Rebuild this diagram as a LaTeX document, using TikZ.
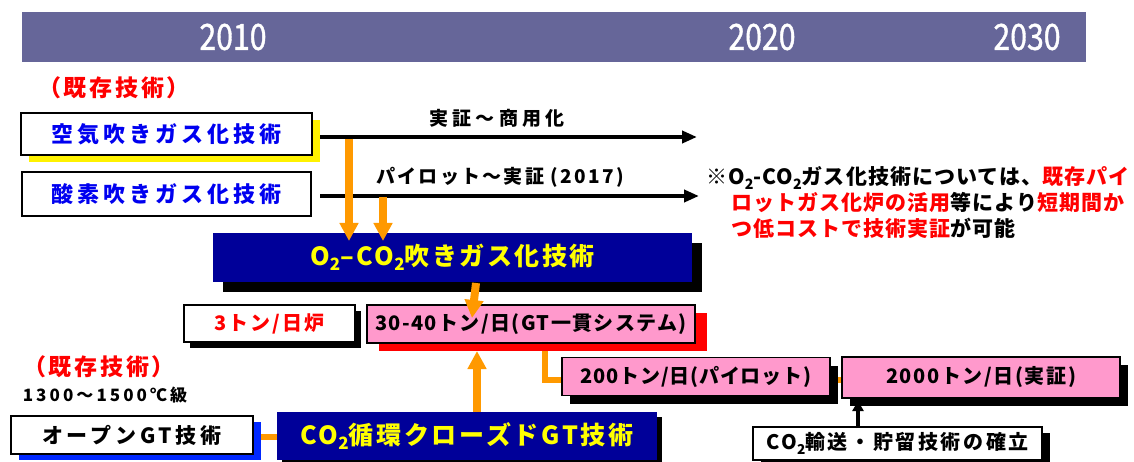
\documentclass[tikz,border=0pt]{standalone}
\usepackage{fontspec}
\usepackage{graphicx}
\setmainfont{Noto Sans CJK JP}
\usetikzlibrary{arrows.meta,shadows}
\definecolor{barc}{RGB}{102,102,153}
\definecolor{navyc}{RGB}{0,0,153}
\definecolor{pinkc}{RGB}{255,153,204}
\definecolor{orng}{RGB}{255,153,0}
\definecolor{txtblue}{RGB}{0,0,240}
\definecolor{txtred}{RGB}{255,0,0}
\definecolor{txtyel}{RGB}{255,255,0}
\definecolor{shblue}{RGB}{0,40,255}
\newcommand\fs[1]{\fontsize{#1pt}{#1pt}\selectfont}
\newcommand\ls[1]{\addfontfeatures{LetterSpace=#1}}
\newcommand\subtwo{\raisebox{-0.22em}{\scalebox{0.68}{2}}}
\begin{document}
\begin{tikzpicture}[x=1pt,y=-1pt,
  box/.style={draw=black,line width=1.6pt,fill=white,inner sep=0pt},
  pinkbox/.style={box,fill=pinkc},
  navybox/.style={fill=navyc,inner sep=0pt,text=txtyel},
  shad/.style n args={3}{general shadow={fill=#1,shadow xshift=#2,shadow yshift=#3}},
  tx/.style n args={2}{font=\bfseries\fs{#1}\ls{#2},inner sep=0pt},
  yr/.style={font=\fs{36}\addfontfeatures{FakeBold=1.2},text=white,inner sep=0pt},
  blk/.style={line width=4.5pt,-{Triangle[width=12pt,length=15pt]}},
  blkup/.style={line width=4pt,-{Triangle[width=11pt,length=10pt]}},
  oarrow/.style={draw=orng,line width=8pt,-{Triangle[width=18pt,length=18pt]}},
  oline/.style={draw=orng,line width=6pt}]
\useasboundingbox (0,0) rectangle (1134,462);
% header bar
\fill[barc] (22,12) rectangle (1086,62);
\node[yr] (y1) at (233,37) {\scalebox{0.84}[1]{2010}};
\node[yr] (y2) at (762,37) {\scalebox{0.84}[1]{2020}};
\node[yr] (y3) at (1027,37) {\scalebox{0.84}[1]{2030}};
% coordinates for connectors
\coordinate (lA) at (545,343);
\coordinate (lB) at (545,380);
\coordinate (lC) at (563,380);
\coordinate (mA) at (829,380);
\coordinate (mB) at (843,380);
\coordinate (pA) at (252,437);
\coordinate (pB) at (278,437);
\draw[oline] (lA) -- (lB) -- (lC);
\draw[oline] (mA) -- (mB);
\draw[oline] (pA) -- (pB);
% boxes
\node[box,shad={yellow}{8pt}{-7pt},minimum width=291pt,minimum height=42pt,text=txtblue,tx={22}{18}] (air) at (166.5,134) {空気吹きガス化技術};
\node[box,minimum width=289pt,minimum height=44pt,text=txtblue,tx={22}{18}] (oxy) at (166.5,194) {酸素吹きガス化技術};
\node[navybox,shad={black}{10pt}{-10pt},minimum width=479pt,minimum height=49pt,tx={25}{10}] (o2co2) at (452.5,257.5) {O\subtwo--CO\subtwo 吹きガス化技術};
\node[box,shad={black}{6pt}{-6pt},minimum width=171pt,minimum height=37pt,text=txtred,tx={20}{10}] (three) at (269.5,323.5) {3トン/日炉};
\node[pinkbox,shad={txtred}{12pt}{-8pt},minimum width=328pt,minimum height=38pt,tx={20}{7}] (thirty) at (531,324) {30-40トン/日(GT一貫システム)};
\node[pinkbox,shad={black}{8pt}{-8pt},minimum width=268pt,minimum height=38pt,tx={20}{4}] (twoh) at (696,376.5) {200トン/日(パイロット)};
\node[pinkbox,shad={black}{8pt}{-8pt},minimum width=278pt,minimum height=41pt,tx={20}{8}] (twok) at (981,377.5) {2000トン/日(実証)};
\node[box,shad={black}{8pt}{-6pt},minimum width=289pt,minimum height=33pt,tx={20}{13}] (trans) at (897.5,443.5) {CO\subtwo 輸送・貯留技術の確立};
\node[navybox,shad={black}{5pt}{-5pt},minimum width=380pt,minimum height=48pt,tx={25}{11}] (closed) at (467,436) {CO\subtwo 循環クローズドGT技術};
\node[box,shad={shblue}{8pt}{-6pt},minimum width=242pt,minimum height=38pt,tx={21}{18}] (open) at (132,435) {オープンGT技術};
% black arrows
\coordinate (k1s) at (320,137);
\coordinate (k1e) at (697,137);
\coordinate (k2s) at (320,196);
\coordinate (k2e) at (699,196);
\draw[blk] (k1s) -- (k1e);
\draw[blk] (k2s) -- (k2e);
\coordinate (kus) at (858,428);
\coordinate (kue) at (858,401);
\draw[blkup] (kus) -- (kue);
% orange arrows
\coordinate (o1s) at (349,139);
\coordinate (o1e) at (349,241);
\coordinate (o2s) at (383,197);
\coordinate (o2e) at (383,241);
\coordinate (o3s) at (476,283);
\coordinate (o3e) at (472,318);
\coordinate (o4s) at (477,412);
\coordinate (o4e) at (477,351);
\draw[oarrow] (o1s) -- (o1e);
\draw[oarrow] (o2s) -- (o2e);
\draw[oarrow] (o3s) -- (o3e);
\draw[oarrow] (o4s) -- (o4e);
% labels
\node[tx={19}{22}] (lab1) at (497,118) {実証～商用化};
\node[tx={19}{12}] (lab2) at (500,177) {パイロット～実証 (2017)};
\node[tx={23}{12},text=txtred] (ex1) at (114,88) {（既存技術）};
\node[tx={23}{12},text=txtred] (ex2) at (99,367) {（既存技術）};
\node[tx={17}{18}] (temp) at (105,395) {1300～1500℃級};
% note
\node[tx={21}{5},anchor=west] (n1) at (706,178) {※O\subtwo-CO\subtwo ガス化技術については、\textcolor{txtred}{既存パイ}};
\node[tx={21}{5},anchor=west] (n2) at (731,203) {\textcolor{txtred}{ロットガス化炉の活用}等により\textcolor{txtred}{短期間か}};
\node[tx={21}{5},anchor=west] (n3) at (731,228) {\textcolor{txtred}{つ低コストで技術実証}が可能};
\end{tikzpicture}
\end{document}
